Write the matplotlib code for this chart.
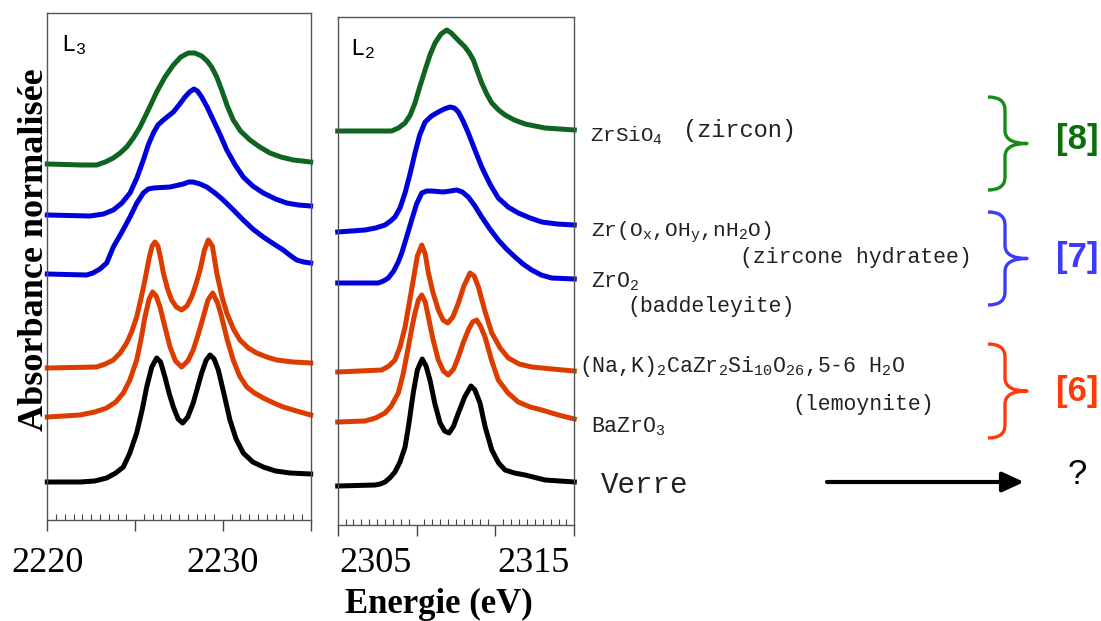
import numpy as np
import matplotlib
matplotlib.use("Agg")
import matplotlib.pyplot as plt
import matplotlib.transforms as mtransforms
from matplotlib.path import Path
from matplotlib.patches import PathPatch
from matplotlib.ticker import FixedLocator

plt.rcParams['mathtext.fontset'] = 'custom'
plt.rcParams['mathtext.rm'] = 'Liberation Mono'
plt.rcParams['mathtext.it'] = 'Liberation Mono'
plt.rcParams['mathtext.bf'] = 'Liberation Mono:bold'

# ---- seuil L3 (energie en eV, absorbance normalisee avec decalage) ----
e3_zircon = [2220.0, 2222.0, 2222.81, 2223.3, 2223.76, 2224.15, 2224.52, 2224.9, 2225.28, 2225.75,
             2226.23, 2226.7, 2227.18, 2227.6, 2228.03, 2228.4, 2228.79, 2229.1, 2229.36, 2229.65,
             2229.93, 2230.25, 2230.59, 2231.0, 2231.54, 2232.1, 2232.68, 2233.3, 2234.01, 2235.0]
a3_zircon = [3.66, 3.65, 3.65, 3.68, 3.72, 3.77, 3.83, 3.92, 4.03, 4.20,
             4.38, 4.53, 4.65, 4.73, 4.77, 4.77, 4.74, 4.69, 4.63, 4.53,
             4.40, 4.24, 4.10, 3.99, 3.90, 3.83, 3.77, 3.73, 3.70, 3.68]

e3_hydrat = [2220.0, 2222.43, 2223.2, 2223.76, 2224.25, 2224.71, 2225.1, 2225.47, 2225.75, 2226.04,
             2226.3, 2226.61, 2227.18, 2227.5, 2227.84, 2228.1, 2228.35, 2228.55, 2228.79, 2229.1,
             2229.45, 2229.85, 2230.22, 2230.7, 2231.16, 2231.7, 2232.30, 2233.0, 2233.63, 2234.3,
             2235.0]
a3_hydrat = [3.15, 3.14, 3.16, 3.20, 3.27, 3.37, 3.52, 3.70, 3.85, 3.97,
             4.05, 4.10, 4.18, 4.25, 4.33, 4.38, 4.41, 4.39, 4.33, 4.23,
             4.10, 3.95, 3.80, 3.65, 3.53, 3.44, 3.37, 3.31, 3.27, 3.25,
             3.24]

e3_baddel = [2220.0, 2222.24, 2222.6, 2223.0, 2223.38, 2223.76, 2224.25, 2224.71, 2225.1, 2225.47,
             2225.75, 2226.04, 2226.99, 2227.74, 2228.05, 2228.31, 2228.7, 2229.08, 2229.55, 2230.02,
             2230.6, 2231.16, 2231.7, 2232.30, 2232.9, 2233.44, 2233.8, 2234.20, 2234.6, 2235.0]
a3_baddel = [2.56, 2.55, 2.57, 2.61, 2.67, 2.83, 2.98, 3.13, 3.27, 3.37,
             3.41, 3.42, 3.43, 3.46, 3.48, 3.48, 3.46, 3.43, 3.37, 3.30,
             3.20, 3.10, 3.01, 2.93, 2.86, 2.80, 2.75, 2.70, 2.68, 2.67]

e3_lemoy = [2220.0, 2222.81, 2223.3, 2223.76, 2224.15, 2224.52, 2224.8, 2225.09, 2225.33, 2225.56,
            2225.8, 2225.97, 2226.13, 2226.3, 2226.45, 2226.61, 2226.85, 2227.08, 2227.35, 2227.65,
            2227.95, 2228.22, 2228.47, 2228.70, 2228.95, 2229.17, 2229.4, 2229.65, 2229.95, 2230.22,
            2230.6, 2230.97, 2231.45, 2231.92, 2232.5, 2233.06, 2234.0, 2235.0]
a3_lemoy = [1.62, 1.63, 1.66, 1.70, 1.77, 1.87, 1.98, 2.13, 2.31, 2.50,
            2.72, 2.84, 2.88, 2.84, 2.72, 2.57, 2.41, 2.30, 2.23, 2.20,
            2.24, 2.33, 2.46, 2.60, 2.80, 2.90, 2.84, 2.57, 2.33, 2.17,
            2.01, 1.90, 1.82, 1.77, 1.73, 1.70, 1.68, 1.67]

e3_bazro3 = [2220.0, 2221.86, 2222.7, 2223.38, 2223.9, 2224.33, 2224.7, 2225.09, 2225.33, 2225.56,
             2225.8, 2226.00, 2226.2, 2226.42, 2226.7, 2226.99, 2227.3, 2227.65, 2228.0, 2228.31,
             2228.6, 2228.88, 2229.15, 2229.42, 2229.7, 2229.93, 2230.25, 2230.59, 2230.95, 2231.36,
             2231.8, 2232.30, 2232.9, 2233.44, 2234.2, 2235.0]
a3_bazro3 = [1.13, 1.15, 1.18, 1.22, 1.28, 1.37, 1.50, 1.70, 1.90, 2.13,
             2.31, 2.38, 2.34, 2.23, 2.03, 1.83, 1.69, 1.63, 1.69, 1.80,
             1.96, 2.13, 2.30, 2.37, 2.27, 2.13, 1.90, 1.70, 1.54, 1.43,
             1.37, 1.32, 1.27, 1.23, 1.19, 1.15]

e3_verre = [2220.0, 2221.86, 2222.7, 2223.38, 2223.9, 2224.33, 2224.7, 2225.09, 2225.4, 2225.66,
            2225.95, 2226.23, 2226.45, 2226.70, 2226.95, 2227.18, 2227.45, 2227.71, 2228.0, 2228.31,
            2228.55, 2228.79, 2229.05, 2229.27, 2229.5, 2229.74, 2230.05, 2230.40, 2230.75, 2231.16,
            2231.7, 2232.30, 2233.0, 2233.82, 2235.0]
a3_verre = [0.48, 0.48, 0.49, 0.52, 0.57, 0.63, 0.77, 0.97, 1.20, 1.43,
            1.63, 1.72, 1.68, 1.53, 1.36, 1.23, 1.11, 1.07, 1.13, 1.27,
            1.42, 1.57, 1.70, 1.75, 1.71, 1.60, 1.37, 1.10, 0.91, 0.77,
            0.68, 0.63, 0.59, 0.57, 0.56]

# ---- seuil L2 ----
e2_zircon = [2302.6, 2306.02, 2306.45, 2306.87, 2307.2, 2307.50, 2307.8, 2308.14, 2308.45, 2308.77,
             2309.15, 2309.51, 2309.8, 2310.04, 2310.35, 2310.67, 2310.95, 2311.20, 2311.45, 2311.73,
             2312.05, 2312.37, 2312.8, 2313.21, 2313.8, 2314.48, 2315.1, 2315.75, 2317.6]
a2_zircon = [3.99, 3.99, 4.02, 4.07, 4.15, 4.27, 4.43, 4.60, 4.75, 4.87,
             4.96, 5.00, 4.97, 4.93, 4.88, 4.83, 4.77, 4.70, 4.59, 4.47,
             4.36, 4.27, 4.20, 4.15, 4.10, 4.06, 4.04, 4.02, 4.00]

e2_hydrat = [2302.6, 2304.33, 2305.0, 2305.60, 2305.95, 2306.23, 2306.55, 2306.87, 2307.2, 2307.50,
             2307.8, 2308.14, 2308.55, 2308.98, 2309.35, 2309.72, 2310.0, 2310.25, 2310.55, 2310.88,
             2311.3, 2311.73, 2312.25, 2312.78, 2313.4, 2314.05, 2314.8, 2315.54, 2316.5, 2317.6]
a2_hydrat = [2.98, 3.00, 3.02, 3.05, 3.09, 3.13, 3.22, 3.37, 3.57, 3.77,
             3.95, 4.08, 4.14, 4.18, 4.21, 4.23, 4.22, 4.18, 4.09, 3.97,
             3.80, 3.63, 3.46, 3.32, 3.23, 3.17, 3.12, 3.08, 3.06, 3.05]

e2_baddel = [2302.6, 2305.17, 2305.5, 2305.81, 2306.15, 2306.44, 2306.66, 2306.95, 2307.29, 2307.6,
             2307.93, 2308.25, 2308.56, 2309.30, 2309.75, 2310.15, 2310.5, 2310.88, 2311.3, 2311.73,
             2312.25, 2312.78, 2313.3, 2313.84, 2314.35, 2314.90, 2315.5, 2316.17, 2317.6]
a2_baddel = [2.47, 2.47, 2.49, 2.52, 2.59, 2.68, 2.77, 2.92, 3.10, 3.26,
             3.37, 3.39, 3.39, 3.38, 3.39, 3.40, 3.38, 3.33, 3.24, 3.13,
             3.01, 2.90, 2.81, 2.73, 2.66, 2.60, 2.55, 2.52, 2.51]

e2_lemoy = [2302.6, 2305.39, 2305.85, 2306.23, 2306.55, 2306.87, 2307.15, 2307.39, 2307.65, 2307.93,
            2308.15, 2308.35, 2308.65, 2308.98, 2309.28, 2309.58, 2309.9, 2310.25, 2310.6, 2310.99,
            2311.25, 2311.52, 2311.95, 2312.37, 2312.9, 2313.42, 2314.1, 2314.90, 2316.2, 2317.6]
a2_lemoy = [1.58, 1.60, 1.64, 1.70, 1.83, 2.03, 2.28, 2.50, 2.74, 2.85,
            2.76, 2.57, 2.37, 2.20, 2.10, 2.07, 2.13, 2.27, 2.44, 2.57,
            2.54, 2.43, 2.18, 1.97, 1.82, 1.72, 1.66, 1.63, 1.61, 1.59]

e2_bazro3 = [2302.6, 2304.33, 2305.0, 2305.60, 2306.0, 2306.44, 2306.75, 2307.08, 2307.30, 2307.50,
             2307.72, 2307.93, 2308.15, 2308.35, 2308.65, 2308.98, 2309.3, 2309.61, 2309.95, 2310.25,
             2310.55, 2310.88, 2311.15, 2311.41, 2311.65, 2311.94, 2312.35, 2312.78, 2313.4, 2314.05,
             2314.8, 2315.54, 2316.6, 2317.6]
a2_bazro3 = [1.08, 1.09, 1.12, 1.17, 1.24, 1.37, 1.56, 1.83, 2.02, 2.17,
             2.30, 2.35, 2.28, 2.13, 1.90, 1.70, 1.59, 1.55, 1.61, 1.73,
             1.87, 2.00, 2.08, 2.10, 2.04, 1.93, 1.70, 1.50, 1.37, 1.28,
             1.23, 1.20, 1.15, 1.11]

e2_verre = [2302.6, 2304.97, 2305.30, 2305.60, 2305.9, 2306.23, 2306.55, 2306.87, 2307.1, 2307.39,
            2307.65, 2307.96, 2308.2, 2308.45, 2308.75, 2309.09, 2309.38, 2309.66, 2309.95, 2310.25,
            2310.65, 2311.05, 2311.3, 2311.62, 2311.95, 2312.37, 2312.8, 2313.21, 2313.8, 2314.48,
            2315.75, 2317.6]
a2_verre = [0.44, 0.45, 0.46, 0.48, 0.52, 0.58, 0.68, 0.83, 1.05, 1.37,
            1.60, 1.71, 1.64, 1.50, 1.27, 1.07, 0.99, 0.97, 1.04, 1.17,
            1.33, 1.44, 1.40, 1.27, 1.03, 0.80, 0.67, 0.60, 0.57, 0.55,
            0.50, 0.48]

l3_labels = [2220, 2230]
l2_labels = [2305, 2315]

GREEN = '#0f6420'
BLUE = '#0000dc'
ORANGE = '#dc3c00'
BLACK = '#000000'

W, H = 1101, 621
fig = plt.figure(figsize=(11.01, 6.21), dpi=100)


def fx(x):
    return x / W


def fy(y):
    return 1 - y / H


ax3 = fig.add_axes([fx(47.3), fy(520), (310.7 - 47.3) / W, (520 - 12.7) / H])
ax2 = fig.add_axes([fx(337.7), fy(525), (574.3 - 337.7) / W, (525 - 16.7) / H])

courbes3 = [(e3_zircon, a3_zircon, GREEN), (e3_hydrat, a3_hydrat, BLUE), (e3_baddel, a3_baddel, BLUE),
            (e3_lemoy, a3_lemoy, ORANGE), (e3_bazro3, a3_bazro3, ORANGE), (e3_verre, a3_verre, BLACK)]
courbes2 = [(e2_zircon, a2_zircon, GREEN), (e2_hydrat, a2_hydrat, BLUE), (e2_baddel, a2_baddel, BLUE),
            (e2_lemoy, a2_lemoy, ORANGE), (e2_bazro3, a2_bazro3, ORANGE), (e2_verre, a2_verre, BLACK)]

for ax, courbes in [(ax3, courbes3), (ax2, courbes2)]:
    for e, a, c in courbes:
        ax.plot(e, a, color=c, lw=3.6, solid_joinstyle='round', clip_on=False)

ax3.set_xlim(2220, 2235)
ax3.set_ylim(0.10, 5.173)
ax2.set_xlim(2302.6, 2317.6)
ax2.set_ylim(0.05, 5.133)

ax3.xaxis.set_major_locator(FixedLocator([2220, 2225, 2230, 2235]))
ax3.xaxis.set_minor_locator(FixedLocator(np.arange(2220, 2235.01, 0.5)))
ax2.xaxis.set_major_locator(FixedLocator([2302.6, 2307.6, 2312.6, 2317.6]))
ax2.xaxis.set_minor_locator(FixedLocator(np.arange(2302.6, 2317.61, 0.5)))

for ax, labs, nom in [(ax3, l3_labels, 'L$_3$'), (ax2, l2_labels, 'L$_2$')]:
    ax.set_yticks([])
    ax.tick_params(axis='x', which='major', direction='out', length=8, width=1,
                   color='#444444', labelbottom=False)
    ax.tick_params(axis='x', which='minor', direction='in', length=4, width=0.8,
                   color='#444444')
    for sp in ax.spines.values():
        sp.set_color('#555555')
        sp.set_linewidth(1)
    tr = mtransforms.blended_transform_factory(ax.transData, fig.transFigure)
    for v in labs:
        ax.text(v, fy(563), str(v), transform=tr, ha='center', va='center',
                family='Liberation Serif', fontsize=26)
    ax.text(0.052, 0.925, nom, transform=ax.transAxes, family='Liberation Mono',
            fontsize=17, va='baseline')

fig.text(fx(35), fy(250), 'Absorbance normalisée', rotation=90, ha='center', va='center',
         family='Liberation Serif', fontweight='bold', fontsize=26)
fig.text(fx(439), fy(604), 'Energie (eV)', ha='center', va='center',
         family='Liberation Serif', fontweight='bold', fontsize=25)

# annotations a droite (coordonnees pixels)
axo = fig.add_axes([0, 0, 1, 1])
axo.set_xlim(0, W)
axo.set_ylim(H, 0)
axo.axis('off')

mono = dict(family='Liberation Mono', va='baseline', ha='left', color='#222222')
axo.text(590, 142, r'ZrSiO$_4$', fontsize=15, **mono)
axo.text(683, 137, '(zircon)', fontsize=17, **mono)
axo.text(591, 237, r'Zr(O$_x$,OH$_y$,nH$_2$O)', fontsize=15.3, **mono)
axo.text(740, 263, '(zircone hydratee)', fontsize=15.5, **mono)
axo.text(591, 287, r'ZrO$_2$', fontsize=15.5, **mono)
axo.text(627, 312, '(baddeleyite)', fontsize=15.5, **mono)
axo.text(579, 372, r'(Na,K)$_2$CaZr$_2$Si$_{10}$O$_{26}$,5-6 H$_2$O', fontsize=15.5, **mono)
axo.text(792, 410, '(lemoynite)', fontsize=15.5, **mono)
axo.text(591, 432, r'BaZrO$_3$', fontsize=15.5, **mono)
axo.text(601, 493, 'Verre', fontsize=21, **mono)


def accolade(x0, ytop, ybot, couleur):
    xm = x0 + 17
    xt = x0 + 39
    ym = (ytop + ybot) / 2
    r = 13
    verts = [(x0, ytop), (xm, ytop), (xm, ytop + r),
             (xm, ym - r),
             (xm, ym), (xt, ym),
             (xm, ym), (xm, ym + r),
             (xm, ybot - r),
             (xm, ybot), (x0, ybot)]
    codes = [Path.MOVETO, Path.CURVE3, Path.CURVE3,
             Path.LINETO,
             Path.CURVE3, Path.CURVE3,
             Path.CURVE3, Path.CURVE3,
             Path.LINETO,
             Path.CURVE3, Path.CURVE3]
    axo.add_patch(PathPatch(Path(verts, codes), fill=False, edgecolor=couleur, lw=2.4,
                            capstyle='butt', joinstyle='round'))


accolade(988, 97, 190, '#178a17')
accolade(988, 212, 305, '#3b3bff')
accolade(988, 344, 438, '#ff3a0a')

ref = dict(family='Liberation Sans', fontweight='bold', fontsize=25, ha='center', va='center')
axo.text(1077, 140, '[8]', color='#0d6e0d', **ref)
axo.text(1077, 258, '[7]', color='#3b3bff', **ref)
axo.text(1077, 392, '[6]', color='#ff3a0a', **ref)

axo.annotate('', xy=(1024, 482), xytext=(827, 482),
             arrowprops=dict(arrowstyle='-|>,head_length=0.65,head_width=0.3', lw=3,
                             color='black', mutation_scale=20, shrinkA=0, shrinkB=0))
axo.text(1077, 475, '?', family='Liberation Sans', fontsize=25, ha='center', va='center')

fig.savefig('out.png', dpi=100)
